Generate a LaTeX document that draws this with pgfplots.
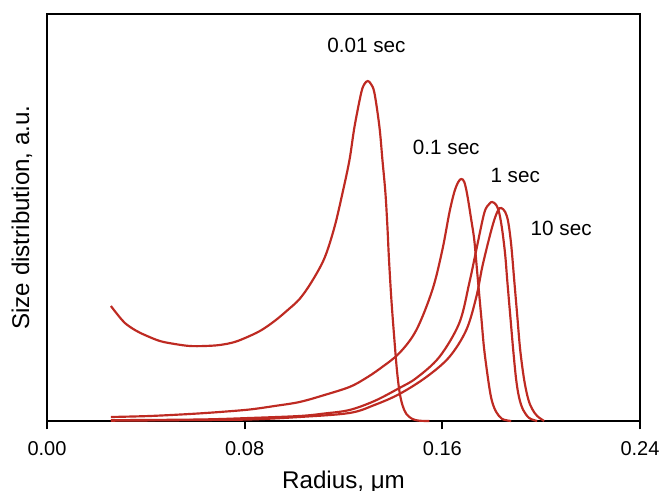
\documentclass[border=0pt]{standalone}
\usepackage{pgfplots}
\pgfplotsset{compat=1.18}
\usepackage{fontspec}
\setmainfont{Liberation Sans}

\definecolor{curvered}{RGB}{190,42,34}

\begin{document}
\begin{tikzpicture}
\begin{axis}[
  name=main,
  scale only axis,
  width=355.8pt, height=244.2pt,
  xmin=0, xmax=0.24, ymin=0, ymax=407,
  xtick={0,0.08,0.16,0.24},
  ytick=\empty,
  xtick pos=lower,
  tick align=outside,
  major tick length=5pt,
  axis line style={line width=1.1pt},
  every tick/.style={black, line width=1.1pt},
  font=\fontsize{12}{14}\selectfont,
  xticklabel style={yshift=-4pt,
    /pgf/number format/.cd, fixed, fixed zerofill, precision=2, assume math mode=true},
  xlabel={Radius, μm},
  ylabel={Size distribution, a.u.},
  every axis x label/.style={at={(axis description cs:0.5,0)}, yshift=-40.4pt, anchor=base,
    font=\fontsize{14.5}{17}\selectfont},
  every axis y label/.style={at={(axis description cs:0,0.5)}, xshift=-15pt, anchor=center, rotate=90,
    font=\fontsize{14.5}{17}\selectfont},
  clip=false,
]
% t = 0.01 s
\addplot[curvered, line width=1.3pt, smooth, tension=0.55] coordinates {
(0.02586,115) (0.02869,106) (0.03152,98) (0.03556,91) (0.03960,86)
(0.04566,80) (0.05172,77) (0.05778,75) (0.06384,75) (0.06990,76)
(0.07596,79) (0.08202,85) (0.08687,91) (0.09212,100) (0.09697,110)
(0.10222,122) (0.10707,139) (0.11232,163) (0.11636,194) (0.11960,228)
(0.12242,261) (0.12444,294) (0.12715,328) (0.12848,337) (0.12982,340)
(0.13111,337) (0.13253,328) (0.13455,294) (0.13576,261) (0.13697,228)
(0.13778,194) (0.13838,163) (0.13939,121) (0.14061,81) (0.14162,51)
(0.14263,30) (0.14384,16) (0.14545,7) (0.14788,2) (0.15071,0.3)
(0.15475,0)
};
% t = 0.1 s
\addplot[curvered, line width=1.3pt, smooth, tension=0.55] coordinates {
(0.02586,4) (0.04162,5) (0.05778,7) (0.06990,9) (0.08202,11.5)
(0.09212,15) (0.10222,19) (0.11232,26) (0.12242,34) (0.12848,42)
(0.13455,52) (0.14263,68) (0.14949,91) (0.15596,131) (0.16000,171)
(0.16283,208) (0.16485,229) (0.16646,239) (0.16768,242) (0.16889,239)
(0.17010,226) (0.17172,201) (0.17293,181) (0.17414,148) (0.17576,104)
(0.17697,71) (0.17899,34) (0.18020,19) (0.18182,9) (0.18424,2)
(0.18788,0)
};
% t = 1 s
\addplot[curvered, line width=1.3pt, smooth, tension=0.55] coordinates {
(0.02586,0.8) (0.06182,1.5) (0.08202,3) (0.10222,5) (0.11232,7.5)
(0.12242,11) (0.13253,20) (0.14263,33) (0.14949,43) (0.15879,64)
(0.16687,98) (0.17091,138) (0.17374,171) (0.17697,208) (0.17899,217)
(0.18020,219) (0.18182,216) (0.18303,208) (0.18424,191) (0.18545,166)
(0.18626,141) (0.18747,106) (0.18869,71) (0.18990,41) (0.19111,23)
(0.19273,11) (0.19515,3) (0.19838,0)
};
% t = 10 s
\addplot[curvered, line width=1.3pt, smooth, tension=0.55] coordinates {
(0.02586,0.3) (0.06182,1) (0.08202,1.5) (0.10222,4) (0.12242,8)
(0.13253,16) (0.14263,27) (0.15354,44) (0.16283,64) (0.16970,91)
(0.17374,124) (0.17616,154) (0.17899,183) (0.18101,201) (0.18263,211)
(0.18384,213) (0.18545,209) (0.18667,199) (0.18788,176) (0.18909,141)
(0.19030,106) (0.19152,71) (0.19313,41) (0.19475,22) (0.19636,12)
(0.19838,5) (0.20121,0)
};
\begin{scope}[every node/.style={font=\fontsize{12.4}{14}\selectfont}]
\node at (axis cs:0.1293,376) {0.01 sec};
\node at (axis cs:0.1616,274) {0.1 sec};
\node at (axis cs:0.1895,246) {1 sec};
\node at (axis cs:0.2081,193) {10 sec};
\end{scope}
\end{axis}
\pgfresetboundingbox
\path ([shift={(-28.2pt,-42pt)}]main.south west) rectangle ([shift={(13.2pt,8.4pt)}]main.north east);
\end{tikzpicture}
\end{document}
